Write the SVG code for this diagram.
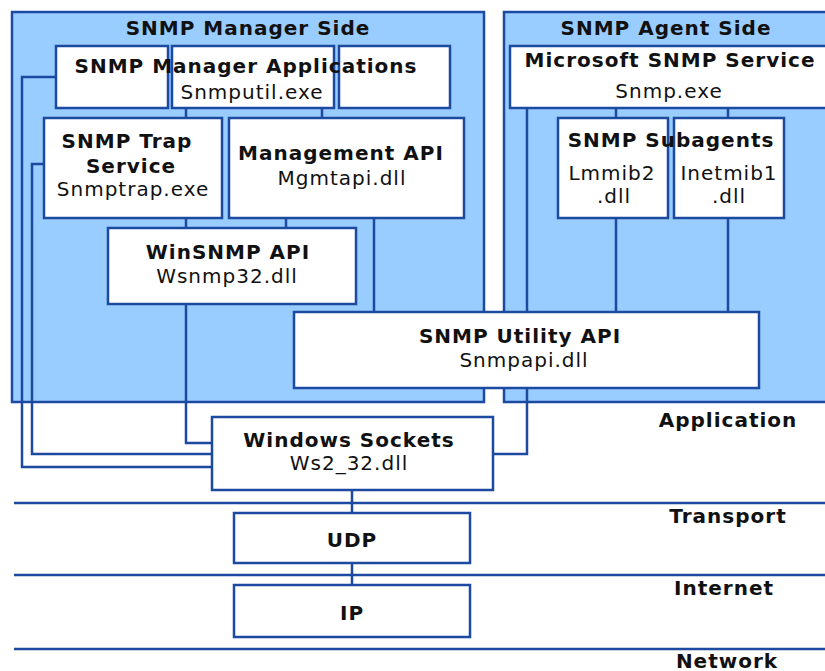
<svg xmlns="http://www.w3.org/2000/svg" width="825" height="671" viewBox="0 0 825 671">
  <style>
    .panel { fill: #99ccff; stroke: #1c4aa0; stroke-width: 2.5; }
    .box { fill: #ffffff; stroke: #1c4aa0; stroke-width: 2.5; }
    .wire { fill: none; stroke: #1c4aa0; stroke-width: 2.5; }
    .layer { fill: none; stroke: #1c4aa0; stroke-width: 2.5; }
    text { font-family: "DejaVu Sans", Verdana, sans-serif; font-size: 20px; fill: #111111; text-anchor: middle; }
    .b { font-weight: bold; letter-spacing: 1px; }
    .n { letter-spacing: 1px; }
  </style>
  <rect width="825" height="671" fill="#ffffff"/>

  <!-- side panels -->
  <g id="manager-side">
    <rect class="panel" x="12" y="12" width="472" height="390"/>
    <text class="b" x="248" y="35">SNMP Manager Side</text>
  </g>
  <g id="agent-side">
    <rect class="panel" x="504" y="12" width="340" height="390"/>
    <text class="b" x="666" y="35">SNMP Agent Side</text>
  </g>

  <!-- connectors -->
  <g id="connectors">
    <path class="wire" d="M56 77 H22 V467 H212"/>
    <path class="wire" d="M44 164 H32 V454 H212"/>
    <path class="wire" d="M186 304 V443 H212"/>
    <path class="wire" d="M186 108 V118"/>
    <path class="wire" d="M322 108 V118"/>
    <path class="wire" d="M186 218 V228"/>
    <path class="wire" d="M286 218 V228"/>
    <path class="wire" d="M374 218 V312"/>
    <path class="wire" d="M527 108 V454 H493"/>
    <path class="wire" d="M616 108 V118"/>
    <path class="wire" d="M728 108 V118"/>
    <path class="wire" d="M616 218 V312"/>
    <path class="wire" d="M728 218 V312"/>
    <path class="wire" d="M352 490 V513"/>
    <path class="wire" d="M352 563 V585"/>
  </g>

  <!-- layer separators -->
  <g id="layers">
    <line class="layer" x1="14" y1="503" x2="825" y2="503"/>
    <line class="layer" x1="14" y1="575" x2="825" y2="575"/>
    <line class="layer" x1="14" y1="649" x2="825" y2="649"/>
    <text class="b" x="728" y="427">Application</text>
    <text class="b" x="728" y="523">Transport</text>
    <text class="b" x="724" y="595">Internet</text>
    <text class="b" x="727" y="668">Network</text>
  </g>

  <g id="manager-apps">
    <rect class="box" x="56" y="46" width="112" height="62"/>
    <rect class="box" x="172" y="46" width="162" height="62"/>
    <rect class="box" x="339" y="46" width="111" height="62"/>
    <text class="b" x="246" y="73">SNMP Manager Applications</text>
    <text class="n" x="252" y="99">Snmputil.exe</text>
  </g>

  <g id="trap-service">
    <rect class="box" x="44" y="118" width="178" height="100"/>
    <text class="b" x="127" y="148">SNMP Trap</text>
    <text class="b" x="131" y="173">Service</text>
    <text class="n" x="133" y="196">Snmptrap.exe</text>
  </g>

  <g id="management-api">
    <rect class="box" x="229" y="118" width="235" height="100"/>
    <text class="b" x="341" y="160">Management API</text>
    <text class="n" x="342" y="185">Mgmtapi.dll</text>
  </g>

  <g id="winsnmp-api">
    <rect class="box" x="108" y="228" width="248" height="76"/>
    <text class="b" x="228" y="259">WinSNMP API</text>
    <text class="n" x="227" y="283">Wsnmp32.dll</text>
  </g>

  <g id="snmp-service">
    <rect class="box" x="510" y="46" width="340" height="62"/>
    <text class="b" x="670" y="67">Microsoft SNMP Service</text>
    <text class="n" x="669" y="98">Snmp.exe</text>
  </g>

  <g id="subagents">
    <rect class="box" x="558" y="118" width="110" height="100"/>
    <rect class="box" x="674" y="118" width="110" height="100"/>
    <text class="b" x="671" y="147">SNMP Subagents</text>
    <text class="n" x="612" y="180">Lmmib2</text>
    <text class="n" x="614" y="203">.dll</text>
    <text class="n" x="729" y="180">Inetmib1</text>
    <text class="n" x="729" y="203">.dll</text>
  </g>

  <g id="utility-api">
    <rect class="box" x="294" y="312" width="465" height="76"/>
    <text class="b" x="520" y="343">SNMP Utility API</text>
    <text class="n" x="524" y="367">Snmpapi.dll</text>
  </g>

  <g id="windows-sockets">
    <rect class="box" x="212" y="417" width="281" height="73"/>
    <text class="b" x="349" y="447">Windows Sockets</text>
    <text class="n" x="349" y="470">Ws2_32.dll</text>
  </g>

  <g id="udp">
    <rect class="box" x="234" y="513" width="236" height="50"/>
    <text class="b" x="352" y="547">UDP</text>
  </g>

  <g id="ip">
    <rect class="box" x="234" y="585" width="236" height="52"/>
    <text class="b" x="352" y="620">IP</text>
  </g>
</svg>
